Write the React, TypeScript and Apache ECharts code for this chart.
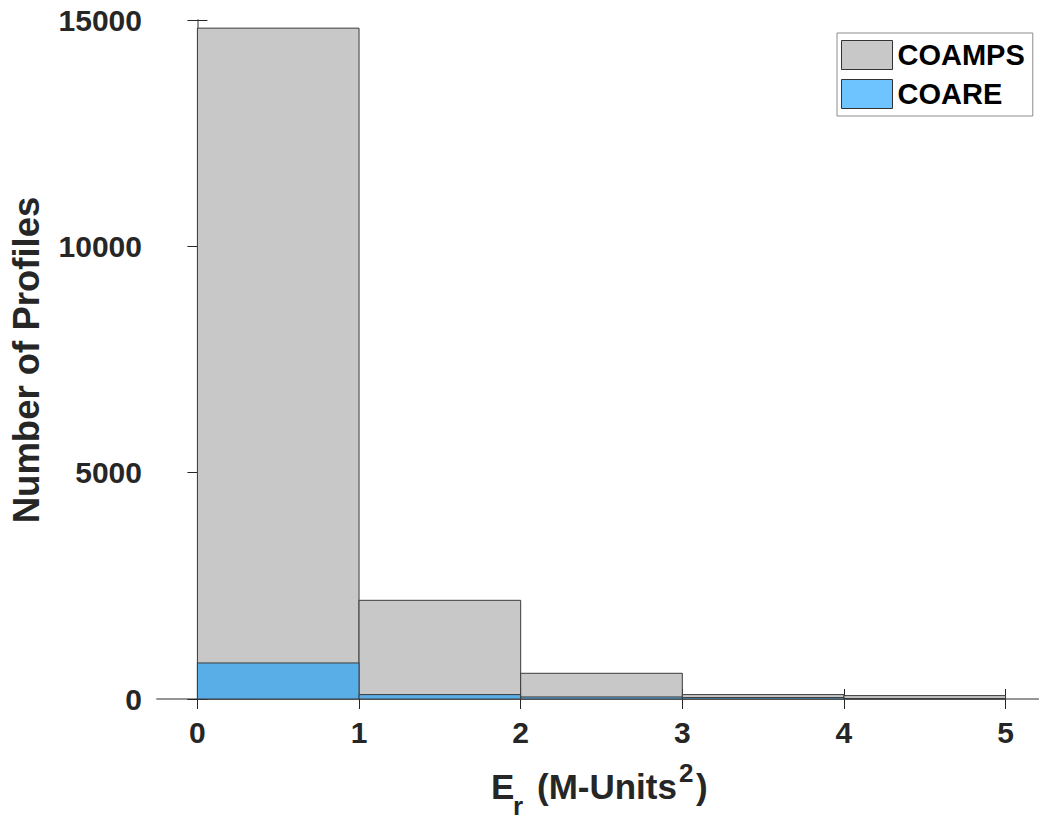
import React, { useEffect, useRef } from "react";
import * as echarts from "echarts";

const binEdges = [0, 1, 2, 3, 4, 5];
const coampsCounts = [14820, 2180, 568, 97, 75];
const coareCounts = [796, 97, 45, 32, 12];
const xTicks = [0, 1, 2, 3, 4, 5];
const seriesNames = ["COAMPS", "COARE"];
const xNameParts = ["E", "r", "(M-Units", "2", ")"];
const yAxisName = "Number of Profiles";

const FONT = "'Liberation Sans', Arial, Helvetica, sans-serif";
const TXT = "#262626";

function toRects(counts: number[]) {
  return counts.map((c, i) => [binEdges[i], binEdges[i + 1], c]);
}

function makeRender(fill: string) {
  return (params: any, api: any) => {
    const x0 = api.value(0);
    const x1 = api.value(1);
    const v = api.value(2);
    const p0 = api.coord([x0, v]);
    const p1 = api.coord([x1, 0]);
    return {
      type: "rect",
      shape: { x: p0[0], y: p0[1], width: p1[0] - p0[0], height: p1[1] - p0[1] },
      style: { fill, stroke: "#3a3a3a", lineWidth: 1 },
    };
  };
}

function nameText(text: string, x: number, y: number, size: number) {
  return {
    type: "text",
    x,
    y,
    style: {
      text,
      align: "left",
      verticalAlign: "middle",
      fill: TXT,
      font: `bold ${size}px ${FONT}`,
    },
  };
}

export default function App() {
  const ref = useRef<HTMLDivElement>(null);
  useEffect(() => {
    if (!ref.current) return;
    const chart = echarts.init(ref.current, undefined, { renderer: "svg" });
    const axisLineStyle = { color: "#8f8f8f", width: 1.5 };
    const tickStyle = { color: "#262626", width: 1 };
    chart.setOption({
      animation: false,
      backgroundColor: "#ffffff",
      grid: { left: 157, top: 20, width: 889, height: 679 },
      xAxis: [
        {
          type: "value",
          min: -0.25,
          max: 5.25,
          position: "bottom",
          axisLine: { show: true, lineStyle: axisLineStyle },
          axisTick: { show: true, inside: true, length: 10, lineStyle: tickStyle, customValues: xTicks },
          axisLabel: {
            show: true,
            customValues: xTicks,
            fontSize: 30,
            fontWeight: "bold",
            fontFamily: FONT,
            color: TXT,
            margin: 18,
          },
          splitLine: { show: false },
        },
        {
          type: "value",
          min: -0.25,
          max: 5.25,
          position: "top",
          axisLine: { show: true, lineStyle: axisLineStyle },
          axisTick: { show: true, inside: true, length: 10, lineStyle: tickStyle, customValues: xTicks },
          axisLabel: { show: false },
          splitLine: { show: false },
        },
      ],
      yAxis: [
        {
          type: "value",
          min: 0,
          max: 15000,
          interval: 5000,
          position: "left",
          axisLine: { show: true, lineStyle: axisLineStyle },
          axisTick: { show: true, inside: true, length: 10, lineStyle: tickStyle },
          axisLabel: {
            fontSize: 30,
            fontWeight: "bold",
            fontFamily: FONT,
            color: TXT,
            margin: 15,
            formatter: (v: number) => String(v),
          },
          splitLine: { show: false },
        },
        {
          type: "value",
          min: 0,
          max: 15000,
          interval: 5000,
          position: "right",
          axisLine: { show: true, lineStyle: axisLineStyle },
          axisTick: { show: true, inside: true, length: 10, lineStyle: tickStyle },
          axisLabel: { show: false },
          splitLine: { show: false },
        },
      ],
      legend: {
        orient: "vertical",
        left: 837,
        top: 33,
        padding: [7, 8, 7, 4],
        itemGap: 9,
        itemWidth: 51,
        itemHeight: 29,
        backgroundColor: "#ffffff",
        borderColor: "#8c8c8c",
        borderWidth: 1,
        borderRadius: 0,
        icon: "rect",
        textStyle: {
          fontSize: 29,
          fontWeight: "bold",
          fontFamily: FONT,
          color: "#000000",
          lineHeight: 29,
        },
        data: [
          { name: seriesNames[0], itemStyle: { color: "#c8c8c8", borderColor: "#333333", borderWidth: 1 } },
          { name: seriesNames[1], itemStyle: { color: "#6ec4ff", borderColor: "#333333", borderWidth: 1 } },
        ],
      },
      graphic: [
        nameText(xNameParts[0], 491, 786, 35),
        nameText(xNameParts[1], 513, 806, 26),
        nameText(xNameParts[2], 537, 786, 35),
        nameText(xNameParts[3], 679, 773, 26),
        nameText(xNameParts[4], 696, 786, 35),
        {
          type: "text",
          x: 26,
          y: 360,
          rotation: Math.PI / 2,
          style: {
            text: yAxisName,
            align: "center",
            verticalAlign: "middle",
            fill: TXT,
            font: `bold 36.5px ${FONT}`,
          },
        },
      ],
      series: [
        {
          name: seriesNames[0],
          type: "custom",
          xAxisIndex: 0,
          yAxisIndex: 0,
          itemStyle: { color: "#c8c8c8" },
          renderItem: makeRender("#c8c8c8"),
          encode: { x: [0, 1], y: 2 },
          data: toRects(coampsCounts),
          z: 2,
        },
        {
          name: seriesNames[1],
          type: "custom",
          xAxisIndex: 0,
          yAxisIndex: 0,
          itemStyle: { color: "#6ec4ff" },
          renderItem: makeRender("#5aaee8"),
          encode: { x: [0, 1], y: 2 },
          data: toRects(coareCounts),
          z: 3,
        },
      ],
    });
    return () => chart.dispose();
  }, []);
  return (
    <div style={{ position: "fixed", left: 0, top: 0, width: 1039, height: 820, overflow: "hidden", background: "#fff" }}>
      <div ref={ref} style={{ width: 1050, height: 820 }} />
    </div>
  );
}
